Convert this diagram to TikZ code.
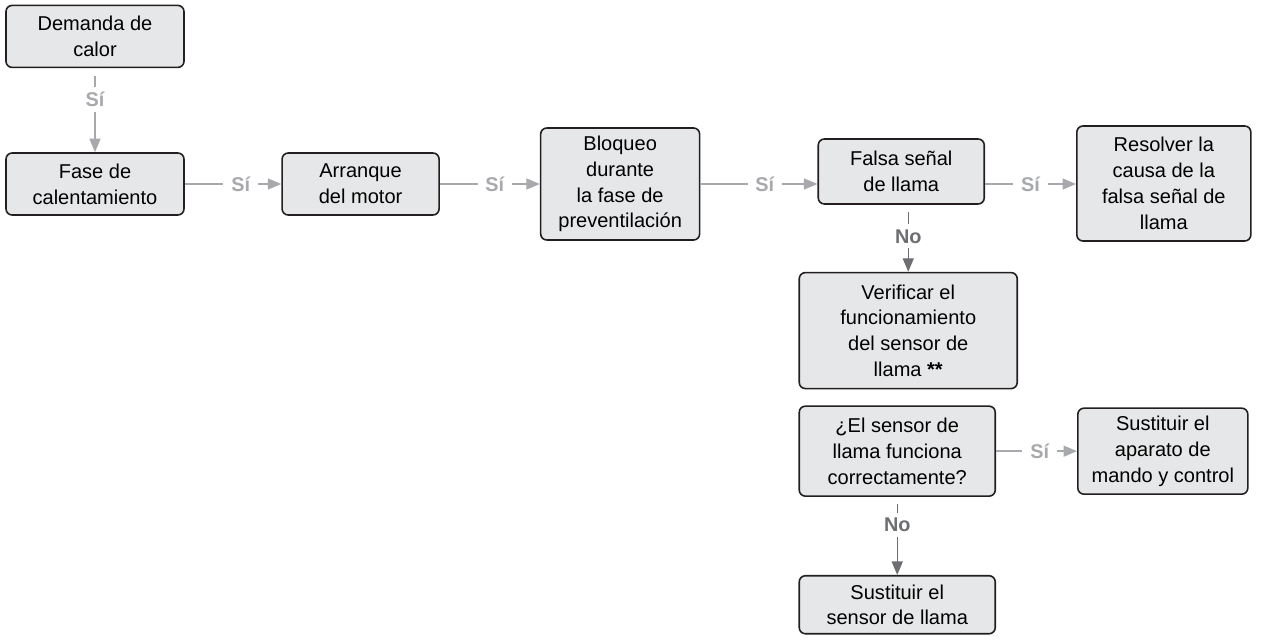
\documentclass[tikz,border=0pt]{standalone}
\usepackage{fontspec}
\setmainfont{Liberation Sans}
\usetikzlibrary{arrows.meta,positioning}
\definecolor{BoxLine}{HTML}{231F20}
\definecolor{BoxFill}{HTML}{E6E7E8}
\definecolor{GrayLight}{HTML}{A7A9AC}
\definecolor{GrayDark}{HTML}{6D6E71}
\begin{document}
\begin{tikzpicture}[
    >={Triangle[length=0.27cm,width=0.22cm]},
    paso/.style={draw=BoxLine,fill=BoxFill,line width=0.9pt,rounded corners=3.5pt,
      align=center,inner sep=2pt,font=\fontsize{11.4}{14.7}\selectfont},
    flechasi/.style={draw=GrayLight,line width=0.8pt,->},
    flechano/.style={draw=GrayDark,line width=0.8pt,->},
    etiqsi/.style={fill=white,text=GrayLight,inner xsep=4.5pt,inner ysep=3pt,
      font=\fontsize{11.3}{13}\selectfont\bfseries},
    etiqno/.style={etiqsi,text=GrayDark}]
  \useasboundingbox (0,0) rectangle (25.6,-12.78);
  % fila principal
  \node[paso,minimum width=3.56cm,minimum height=1.24cm] (fase) at (1.9,-3.68)
    {Fase de\\calentamiento};
  \node[paso,minimum width=3.56cm,minimum height=1.24cm,above=1.68cm of fase] (demanda)
    {Demanda de\\calor};
  \node[paso,minimum width=3.14cm,minimum height=1.24cm,right=1.93cm of fase] (arranque)
    {Arranque\\del motor};
  \node[paso,minimum width=3.18cm,minimum height=2.24cm,right=2.0cm of arranque] (bloqueo)
    {Bloqueo\\durante\\la fase de\\preventilación};
  \node[paso,minimum width=3.32cm,minimum height=1.3cm,right=2.34cm of bloqueo,yshift=0.25cm] (falsa)
    {Falsa señal\\de llama};
  \node[paso,minimum width=3.48cm,minimum height=2.3cm,right=1.82cm of falsa,yshift=-0.24cm] (resolver)
    {Resolver la\\causa de la\\falsa señal de\\llama};
  % rama de comprobacion
  \node[paso,minimum width=4.36cm,minimum height=2.32cm,below=1.34cm of falsa,xshift=0.14cm] (verificar)
    {Verificar el\\funcionamiento\\del sensor de\\llama \textbf{**}};
  \node[paso,minimum width=3.92cm,minimum height=1.8cm,below=0.32cm of verificar,xshift=-0.22cm] (pregunta)
    {¿El sensor de\\llama funciona\\correctamente?};
  \node[paso,minimum width=3.4cm,minimum height=1.72cm,right=1.62cm of pregunta] (aparato)
    {Sustituir el\\aparato de\\mando y control};
  \node[paso,minimum width=3.92cm,minimum height=1.16cm,below=1.56cm of pregunta] (sensor)
    {Sustituir el\\sensor de llama};
  % conectores
  \draw[flechasi,shorten <=0.16cm] (demanda) -- node[etiqsi,pos=0.37]{Sí} (fase);
  \draw[flechasi] (fase) -- node[etiqsi,pos=0.58]{Sí} (arranque);
  \draw[flechasi] (arranque) -- node[etiqsi,pos=0.55]{Sí} (bloqueo);
  \draw[flechasi] (bloqueo.east) -- node[etiqsi,pos=0.55]{Sí} (bloqueo.east -| falsa.west);
  \draw[flechasi] (falsa.east |- bloqueo.east) -- node[etiqsi]{Sí} (resolver.west |- bloqueo.east);
  \draw[flechano,shorten <=0.14cm] (falsa.south -| verificar.north) -- node[etiqno,pos=0.47]{No} (verificar.north);
  \draw[flechasi] (pregunta) -- node[etiqsi,pos=0.54]{Sí} (aparato);
  \draw[flechano,shorten <=0.14cm] (pregunta) -- node[etiqno,pos=0.36]{No} (sensor);
\end{tikzpicture}
\end{document}
